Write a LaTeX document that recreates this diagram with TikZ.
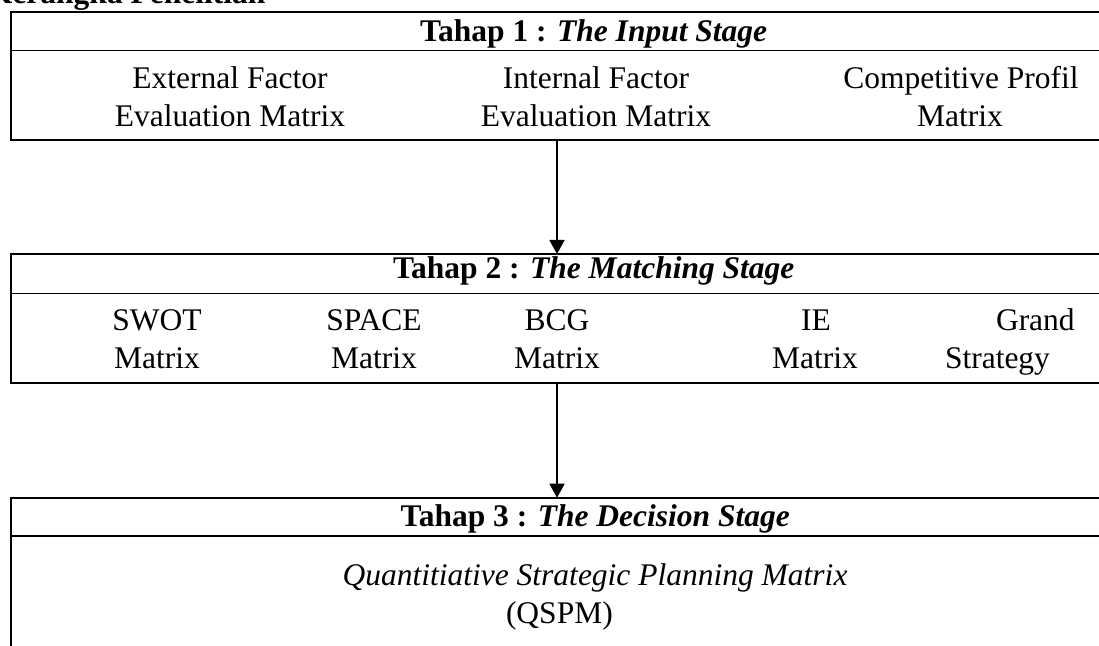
\documentclass[tikz,border=0pt]{standalone}
\usepackage{fontspec}
\setmainfont{Liberation Serif}
\usetikzlibrary{arrows.meta}
\begin{document}
\begin{tikzpicture}[x=1bp,y=-1bp,
  frame/.style={draw, line width=1.8bp, minimum width=1200bp, inner sep=0pt, outer sep=0pt, anchor=north west},
  txt/.style={inner sep=0pt, outer sep=0pt, anchor=base, font=\fontsize{31.5bp}{38bp}\selectfont},
  txtw/.style={txt, anchor=base west},
  arr/.style={line width=1.8bp, -{Triangle[length=14bp,width=15bp]}}]
\useasboundingbox (0,0) rectangle (1099,646);
\clip (0,0) rectangle (1099,646);
% title (cut at the top)
\node[txtw] (title) at (-12,4) {\textbf{Kerangka Penelitian}};
% stage 1
\node[frame, minimum height=38.5bp] (h1) at (11,12) {};
\node[frame, minimum height=89.5bp] (b1) at (11,50.5) {};
\node[txtw] (t1) at (420,41.7) {\textbf{Tahap 1 : \textit{The Input Stage}}};
\node[txt] (efe1) at (230,89) {External Factor};
\node[txt] (efe2) at (230,126.5) {Evaluation Matrix};
\node[txt] (ife1) at (596,89) {Internal Factor};
\node[txt] (ife2) at (596,126.5) {Evaluation Matrix};
\node[txt] (cpm1) at (961,89) {Competitive Profil};
\node[txt] (cpm2) at (960,126.5) {Matrix};
% stage 2
\node[frame, minimum height=39.5bp] (h2) at (11,254) {};
\node[frame, minimum height=89.5bp] (b2) at (11,293.5) {};
\node[txtw] (t2) at (393,278.3) {\textbf{Tahap 2 : \textit{The Matching Stage}}};
\node[txt] (swot1) at (157,330.7) {SWOT};
\node[txt] (swot2) at (157,368.3) {Matrix};
\node[txt] (space1) at (374,330.7) {SPACE};
\node[txt] (space2) at (374,368.3) {Matrix};
\node[txt] (bcg1) at (557,330.7) {BCG};
\node[txt] (bcg2) at (557,368.3) {Matrix};
\node[txt] (ie1) at (816,330.7) {IE};
\node[txt] (ie2) at (815,368.3) {Matrix};
\node[txtw] (gs1) at (996,330.7) {Grand};
\node[txtw] (gs2) at (945,368.3) {Strategy};
% stage 3
\node[frame, minimum height=38.3bp] (h3) at (11,497.7) {};
\node[frame, minimum height=200bp] (b3) at (11,536) {};
\node[txtw] (t3) at (400.7,526) {\textbf{Tahap 3 : \textit{The Decision Stage}}};
\node[txt] (qspm1) at (595,585) {\textit{Quantitiative Strategic Planning Matrix}};
\node[txtw] (qspm2) at (506,623) {(QSPM)};
% connectors
\draw[arr] (b1.south -| bcg1) -- (h2.north -| bcg1);
\draw[arr] (b2.south -| bcg1) -- (h3.north -| bcg1);
\end{tikzpicture}
\end{document}
